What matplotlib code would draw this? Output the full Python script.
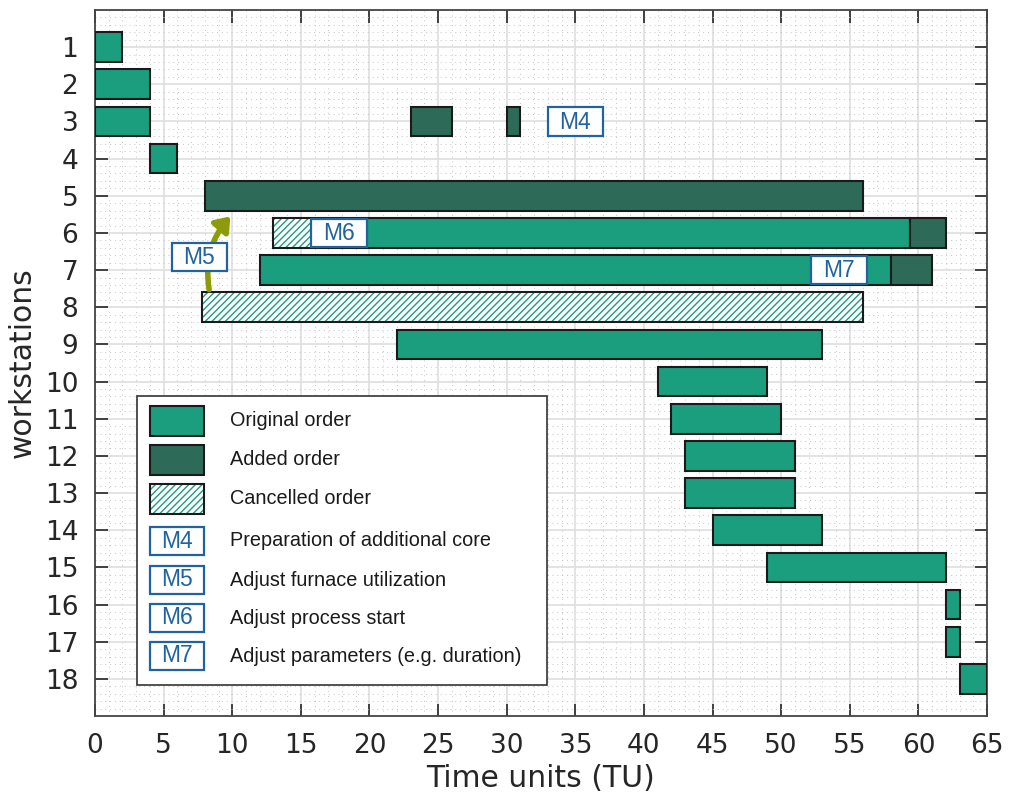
import matplotlib
matplotlib.use("Agg")
import matplotlib.pyplot as plt
from matplotlib.patches import Rectangle, FancyArrowPatch
from matplotlib.ticker import MultipleLocator

# Schedule data: (workstation, start, end)
original_orders = [
    (1, 0, 2), (2, 0, 4), (3, 0, 4), (4, 4, 6),
    (6, 18, 59.4), (7, 12, 58), (9, 22, 53),
    (10, 41, 49), (11, 42, 50), (12, 43, 51), (13, 43, 51),
    (14, 45, 53), (15, 49, 62), (16, 62, 63), (17, 62, 63), (18, 63, 65),
]
added_orders = [
    (3, 23, 26), (3, 30, 31), (5, 8, 56), (6, 59.4, 62), (7, 58, 61),
]
cancelled_orders = [
    (6, 13, 18), (8, 7.8, 56),
]

# Measure labels: (text, x_center, workstation)
measure_labels = [("M4", 35.0, 3), ("M6", 17.8, 6), ("M7", 54.2, 7), ("M5", 7.6, 6.65)]
legend_labels = ["Original order", "Added order", "Cancelled order",
                 "Preparation of additional core", "Adjust furnace utilization",
                 "Adjust process start", "Adjust parameters (e.g. duration)"]
legend_tags = ["M4", "M5", "M6", "M7"]

C_ORIG = "#1b9e7d"
C_ADD = "#2e6a58"
C_BLUE = "#1f64a0"
C_ARROW = "#8c9c08"
BAR_H = 0.8

fig = plt.figure(figsize=(10.17, 7.98), dpi=100)
ax = fig.add_axes([95 / 1017, 1 - 716 / 798, 892 / 1017, 706 / 798])

for ws, s, e in original_orders:
    ax.barh(ws, e - s, left=s, height=BAR_H, color=C_ORIG, edgecolor="#1a1a1a", linewidth=1.5, zorder=3)
for ws, s, e in added_orders:
    ax.barh(ws, e - s, left=s, height=BAR_H, color=C_ADD, edgecolor="#1a1a1a", linewidth=1.5, zorder=3)
for ws, s, e in cancelled_orders:
    ax.barh(ws, e - s, left=s, height=BAR_H, color="white", edgecolor=C_ORIG, hatch="/////", linewidth=0, zorder=2)
    ax.barh(ws, e - s, left=s, height=BAR_H, fill=False, edgecolor="#1a1a1a", linewidth=1.5, zorder=2)

ax.set_xlim(0, 65)
ax.set_ylim(19, 0)
ax.xaxis.set_major_locator(MultipleLocator(5))
ax.xaxis.set_minor_locator(MultipleLocator(1))
ax.set_yticks(range(1, 19))
ax.yaxis.set_minor_locator(MultipleLocator(0.2))
ax.grid(which="major", color="#e0e0e0", linewidth=1.3, zorder=0)
ax.grid(which="minor", color="#c4c4c4", linewidth=0.7, linestyle=(0, (1, 4)), zorder=0)
ax.set_axisbelow(True)
ax.tick_params(which="major", direction="in", length=9, width=1.3, labelsize=19, pad=12,
               top=True, right=True, color="#333333")
ax.tick_params(which="minor", length=0)
for sp in ax.spines.values():
    sp.set_color("#444444")
    sp.set_linewidth(1.3)
ax.set_xlabel("Time units (TU)", fontsize=21.5, labelpad=4, color="#262626")
ax.set_ylabel("workstations", fontsize=21.5, labelpad=6, color="#262626")
for lbl in ax.get_xticklabels() + ax.get_yticklabels():
    lbl.set_color("#262626")

# Measure tags on the chart
BOX_W, BOX_H = 4.05, 0.76
for txt, xc, ws in measure_labels:
    ax.add_patch(Rectangle((xc - BOX_W / 2, ws - BOX_H / 2), BOX_W, BOX_H, facecolor="white",
                           edgecolor=C_BLUE, linewidth=1.6, zorder=5))
    ax.text(xc, ws + 0.02, txt, ha="center", va="center", color=C_BLUE, fontsize=16.5,
            family="Liberation Sans", zorder=6)

# Curved arrow for the furnace utilization adjustment
arrow = FancyArrowPatch((8.35, 7.6), (10.0, 5.5), connectionstyle="arc3,rad=-0.25",
                        arrowstyle="-|>,head_length=8,head_width=6", color=C_ARROW,
                        linewidth=4, zorder=4)
ax.add_patch(arrow)

# Hand-built legend in axes fraction coordinates
def fx(px):
    return (px - 95) / 892

def fy(py):
    return (716 - py) / 706

ax.add_patch(Rectangle((fx(137), fy(685)), fx(547) - fx(137), fy(396) - fy(685),
                       transform=ax.transAxes, facecolor="white", edgecolor="#333333",
                       linewidth=1.2, zorder=7))
rows_y = [421, 460, 499, 541, 580, 618, 656]
sw, sh = 54, 30
for i, (label, py) in enumerate(zip(legend_labels, rows_y)):
    x0, y0 = fx(150), fy(py + sh / 2)
    w, h = fx(150 + sw) - fx(150), fy(py - sh / 2) - fy(py + sh / 2)
    if i == 0:
        ax.add_patch(Rectangle((x0, y0), w, h, transform=ax.transAxes, facecolor=C_ORIG,
                               edgecolor="#1a1a1a", linewidth=1.5, zorder=8))
    elif i == 1:
        ax.add_patch(Rectangle((x0, y0), w, h, transform=ax.transAxes, facecolor=C_ADD,
                               edgecolor="#1a1a1a", linewidth=1.5, zorder=8))
    elif i == 2:
        ax.add_patch(Rectangle((x0, y0), w, h, transform=ax.transAxes, facecolor="white",
                               edgecolor=C_ORIG, hatch="/////", linewidth=0, zorder=8))
        ax.add_patch(Rectangle((x0, y0), w, h, transform=ax.transAxes, fill=False,
                               edgecolor="#1a1a1a", linewidth=1.5, zorder=8))
    else:
        hh = fy(py - 14) - fy(py + 14)
        ax.add_patch(Rectangle((x0, fy(py + 14)), w, hh, transform=ax.transAxes,
                               facecolor="white", edgecolor=C_BLUE, linewidth=1.6, zorder=8))
        ax.text(x0 + w / 2, fy(py), legend_tags[i - 3], transform=ax.transAxes, ha="center",
                va="center", color=C_BLUE, fontsize=16.5, family="Liberation Sans", zorder=9)
    ax.text(fx(230), fy(py), label, transform=ax.transAxes, ha="left", va="center",
            fontsize=14.3, family="Liberation Sans", color="#1a1a1a", zorder=9)

fig.savefig("out.png", dpi=100)
